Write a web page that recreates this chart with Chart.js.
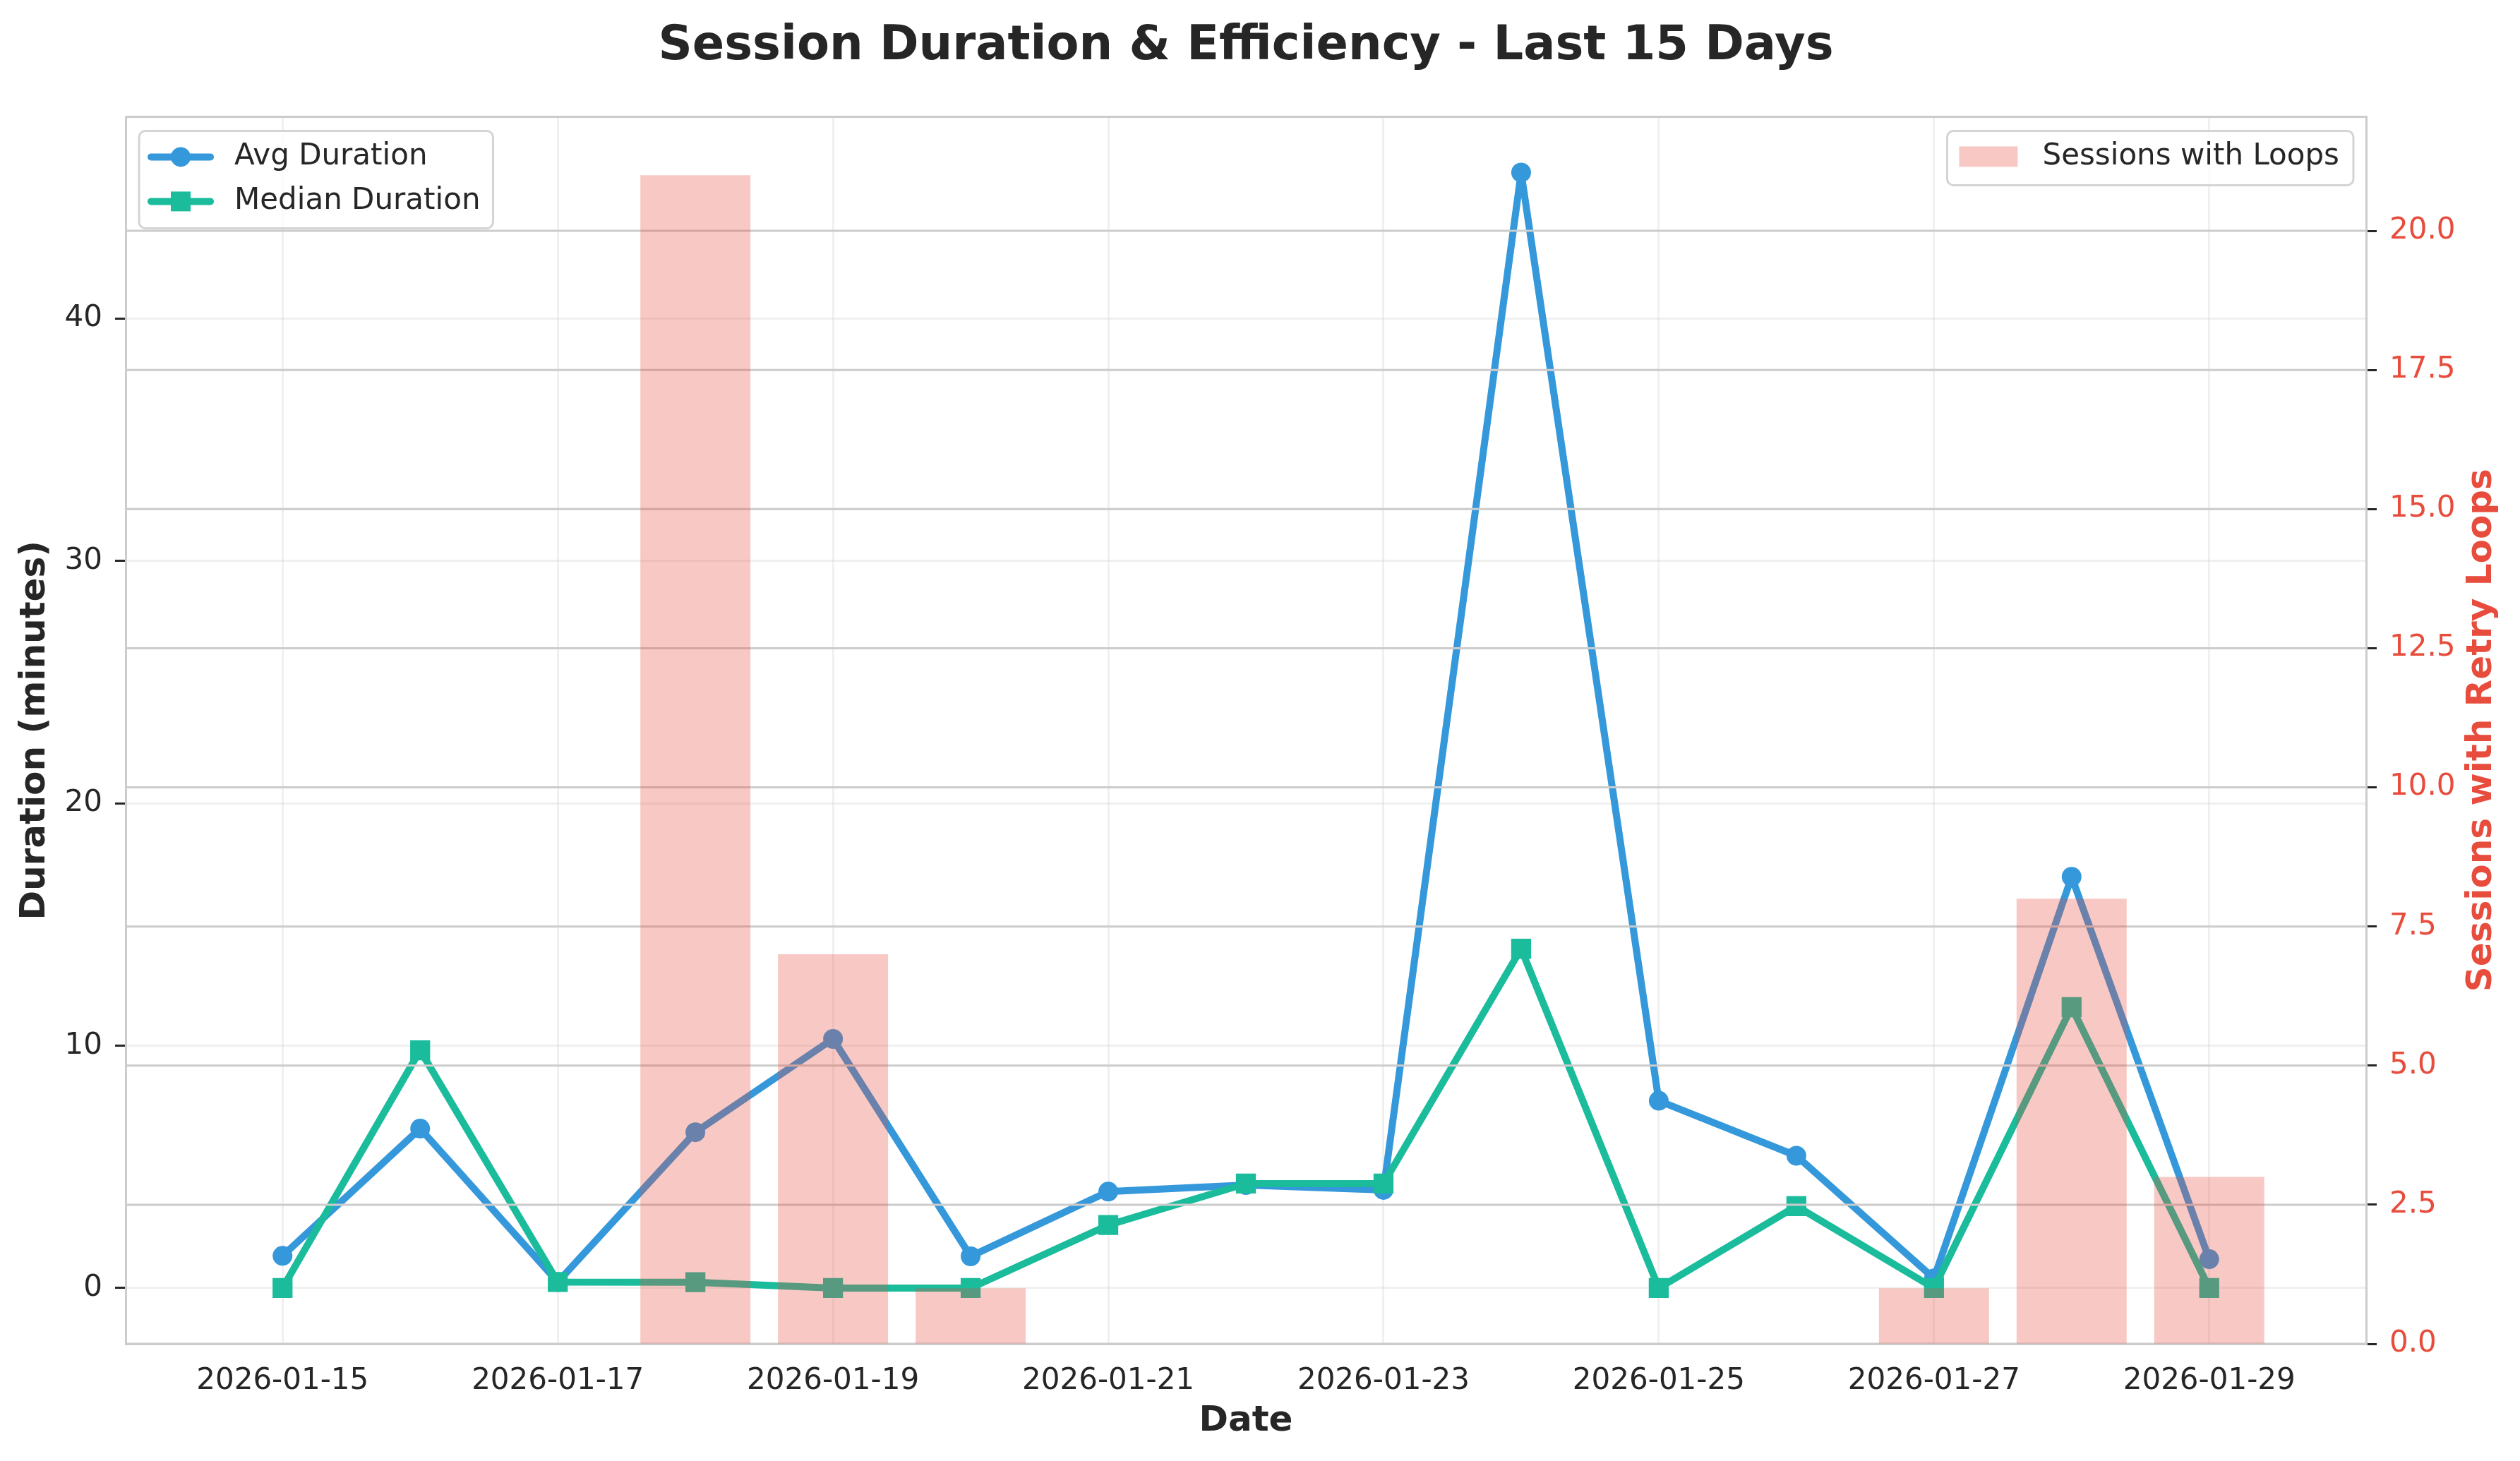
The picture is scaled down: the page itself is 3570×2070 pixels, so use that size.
<!DOCTYPE html>
<html>
<head>
<meta charset="utf-8">
<title>Session Duration & Efficiency</title>
<script src="https://cdn.jsdelivr.net/npm/chart.js@4.4.1/dist/chart.umd.min.js"></script>
<style>
  html, body { margin: 0; padding: 0; background: #fff; }
  canvas { display: block; }
</style>
</head>
<body>
<canvas id="chart" width="3570" height="2070"></canvas>
<script>
// data
const dates = ['2026-01-15', '2026-01-16', '2026-01-17', '2026-01-18', '2026-01-19',
  '2026-01-20', '2026-01-21', '2026-01-22', '2026-01-23', '2026-01-24',
  '2026-01-25', '2026-01-26', '2026-01-27', '2026-01-28', '2026-01-29'];
const avgDuration = [1.33, 6.58, 0.25, 6.43, 10.28, 1.31, 3.98, 4.25, 4.05, 46.03, 7.73, 5.46, 0.4, 16.97, 1.19];
const medianDuration = [0, 9.81, 0.25, 0.24, 0, 0, 2.6, 4.31, 4.31, 14.0, 0, 3.38, 0, 11.59, 0];
const loopSessions = [0, 0, 0, 21, 7, 1, 0, 0, 0, 0, 0, 0, 1, 8, 3];

const dateTicks = ['2026-01-15', '2026-01-17', '2026-01-19', '2026-01-21', '2026-01-23', '2026-01-25', '2026-01-27', '2026-01-29'];
const durationTicks = [0, 10, 20, 30, 40];
const loopTicks = [0, 2.5, 5, 7.5, 10, 12.5, 15, 17.5, 20];

const BLUE = '#3498db';
const GREEN = '#1abc9c';
const RED = '#e74c3c';
const TEXT = '#262626';
const EDGE = '#cccccc';
const LIGHT = 'rgba(204,204,204,0.3)';
const FONT = "'DejaVu Sans', sans-serif";

Chart.defaults.font.family = FONT;
Chart.defaults.font.size = 42;
Chart.defaults.color = TEXT;

// matplotlib style 5% margins
const durMax = Math.max(...avgDuration, ...medianDuration);
const durPad = 0.05 * durMax;
const loopMax = Math.max(...loopSessions) * 1.05;
const xPad = 0.74;

const toPoints = arr => arr.map((v, i) => ({ x: i, y: v }));

// grid of the right axis sits between the lines and the bars
const twinGrid = {
  id: 'twinGrid',
  beforeDatasetDraw(chart, args) {
    if (args.meta.type !== 'bar') return;
    const { ctx, chartArea } = chart;
    const y1 = chart.scales.y1;
    ctx.save();
    ctx.strokeStyle = EDGE;
    ctx.lineWidth = 3;
    y1.ticks.forEach(t => {
      const py = y1.getPixelForValue(t.value);
      ctx.beginPath();
      ctx.moveTo(chartArea.left, py);
      ctx.lineTo(chartArea.right, py);
      ctx.stroke();
    });
    ctx.restore();
  }
};

function legendBox(ctx, x, y, w, h) {
  ctx.beginPath();
  ctx.roundRect(x, y, w, h, 9);
  ctx.fillStyle = 'rgba(255,255,255,0.8)';
  ctx.fill();
  ctx.lineWidth = 3;
  ctx.strokeStyle = '#d4d4d4';
  ctx.stroke();
}

const overlay = {
  id: 'overlay',
  afterDraw(chart) {
    const { ctx, chartArea } = chart;
    const ds = chart.data.datasets;
    ctx.save();

    // top spine
    ctx.strokeStyle = EDGE;
    ctx.lineWidth = 3;
    ctx.beginPath();
    ctx.moveTo(chartArea.left, chartArea.top);
    ctx.lineTo(chartArea.right, chartArea.top);
    ctx.stroke();

    ctx.font = '42px ' + FONT;
    ctx.textBaseline = 'middle';
    ctx.textAlign = 'left';

    // left legend: the two lines
    const lines = [ds[0], ds[1]];
    const lx = chartArea.left + 19, ly = chartArea.top + 20;
    const tw = Math.max(...lines.map(d => ctx.measureText(d.label).width));
    legendBox(ctx, lx, ly, 12 + 94 + 29 + tw + 18, 138);
    lines.forEach((d, i) => {
      const cy = ly + 37 + i * 63;
      ctx.strokeStyle = d.borderColor;
      ctx.lineWidth = 10;
      ctx.lineCap = 'round';
      ctx.beginPath();
      ctx.moveTo(lx + 12 + 5, cy);
      ctx.lineTo(lx + 106 - 5, cy);
      ctx.stroke();
      ctx.fillStyle = d.borderColor;
      const mx = lx + 59;
      if (d.pointStyle === 'rect') {
        ctx.fillRect(mx - 14, cy - 14, 28, 28);
      } else {
        ctx.beginPath();
        ctx.arc(mx, cy, 14, 0, Math.PI * 2);
        ctx.fill();
      }
      ctx.fillStyle = TEXT;
      ctx.fillText(d.label, lx + 135, cy);
    });

    // right legend: the bars
    const bar = ds[2];
    const bw = 17 + 83 + 35 + ctx.measureText(bar.label).width + 20;
    const rx = chartArea.right - 18 - bw, ry = chartArea.top + 20;
    legendBox(ctx, rx, ry, bw, 77);
    ctx.fillStyle = bar.backgroundColor;
    ctx.fillRect(rx + 17, ry + 22, 83, 29);
    ctx.fillStyle = TEXT;
    ctx.fillText(bar.label, rx + 135, ry + 37);

    // right axis title, reading upwards like the left one
    ctx.font = 'bold 50px ' + FONT;
    ctx.fillStyle = RED;
    ctx.textAlign = 'center';
    ctx.translate(3516, (chartArea.top + chartArea.bottom) / 2);
    ctx.rotate(-Math.PI / 2);
    ctx.fillText('Sessions with Retry Loops', 0, 0);
    ctx.restore();
  }
};

new Chart(document.getElementById('chart'), {
  data: {
    datasets: [
      {
        type: 'line',
        label: 'Avg Duration',
        data: toPoints(avgDuration),
        yAxisID: 'y',
        order: 2,
        borderColor: BLUE,
        backgroundColor: BLUE,
        borderWidth: 10,
        borderJoinStyle: 'round',
        tension: 0,
        pointStyle: 'circle',
        pointRadius: 14,
        pointBorderWidth: 0,
        pointBackgroundColor: BLUE
      },
      {
        type: 'line',
        label: 'Median Duration',
        data: toPoints(medianDuration),
        yAxisID: 'y',
        order: 1,
        borderColor: GREEN,
        backgroundColor: GREEN,
        borderWidth: 10,
        borderJoinStyle: 'round',
        tension: 0,
        pointStyle: 'rect',
        pointRadius: 20,
        pointBorderWidth: 0,
        pointBackgroundColor: GREEN
      },
      {
        type: 'bar',
        label: 'Sessions with Loops',
        data: toPoints(loopSessions),
        yAxisID: 'y1',
        order: 0,
        backgroundColor: 'rgba(231,76,60,0.3)',
        borderWidth: 0,
        barPercentage: 0.8,
        categoryPercentage: 1.0
      }
    ]
  },
  options: {
    responsive: false,
    animation: false,
    devicePixelRatio: 1,
    layout: { padding: { left: 0, right: 40, top: 0, bottom: 0 } },
    plugins: {
      legend: { display: false },
      tooltip: { enabled: false },
      title: {
        display: true,
        text: 'Session Duration & Efficiency - Last 15 Days',
        color: TEXT,
        font: { size: 67, weight: 'bold' },
        padding: { top: 26, bottom: 59 }
      }
    },
    scales: {
      x: {
        type: 'linear',
        offset: false,
        min: -xPad - 0.4,
        max: dates.length - 1 + 0.4 + xPad,
        afterBuildTicks: s => { s.ticks = dateTicks.map(d => ({ value: dates.indexOf(d) })); },
        afterFit: s => { s.height = 166; },
        ticks: {
          autoSkip: false,
          maxRotation: 0,
          padding: 28,
          color: TEXT,
          callback: v => dates[v]
        },
        grid: { offset: false, color: LIGHT, lineWidth: 3, drawTicks: false },
        border: { color: EDGE, width: 3 },
        title: {
          display: true,
          text: 'Date',
          color: TEXT,
          font: { size: 50, weight: 'bold' },
          padding: { top: 0, bottom: 26 }
        }
      },
      y: {
        position: 'left',
        min: -durPad,
        max: durMax + durPad,
        afterBuildTicks: s => { s.ticks = durationTicks.map(v => ({ value: v })); },
        afterFit: s => { s.width = 178; },
        ticks: { padding: 18, color: TEXT },
        grid: { color: LIGHT, lineWidth: 3, tickColor: TEXT, tickLength: 15, tickWidth: 3 },
        border: { color: EDGE, width: 3 },
        title: {
          display: true,
          text: 'Duration (minutes)',
          color: TEXT,
          font: { size: 50, weight: 'bold' },
          padding: { top: 20, bottom: 0 }
        }
      },
      y1: {
        position: 'right',
        min: 0,
        max: loopMax,
        afterBuildTicks: s => { s.ticks = loopTicks.map(v => ({ value: v })); },
        afterFit: s => { s.width = 178; },
        ticks: { padding: 18, color: RED, callback: v => v.toFixed(1) },
        grid: { drawOnChartArea: false, color: EDGE, tickColor: TEXT, tickLength: 15, tickWidth: 3 },
        border: { color: EDGE, width: 3 }
      }
    }
  },
  plugins: [twinGrid, overlay]
});
</script>
</body>
</html>
